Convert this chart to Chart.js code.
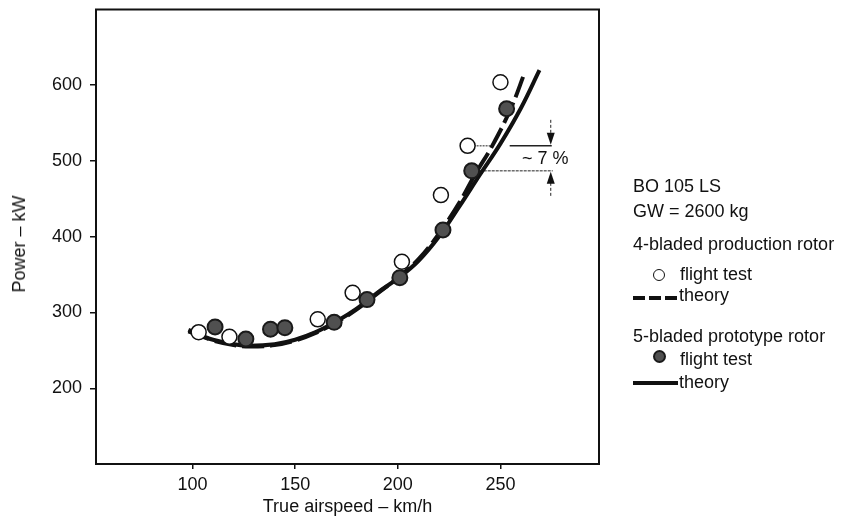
<!DOCTYPE html>
<html>
<head>
<meta charset="utf-8">
<script src="https://cdn.jsdelivr.net/npm/chart.js@4.4.1/dist/chart.umd.min.js"></script>
<style>
    html, body { margin: 0; padding: 0; background: #fff; }
    #wrap { position: relative; width: 852px; height: 521px; overflow: hidden; }
    #chart { position: absolute; left: 0; top: 0; }
    .txt { position: absolute; font: 18px "Liberation Sans", Arial, sans-serif; line-height: 20px; color: #111; white-space: nowrap; }
    .ytitle { left: 19px; top: 244px; transform: translate(-50%, -50%) rotate(-90deg); }
    .sym { position: absolute; box-sizing: border-box; }
    .openDot { width: 12px; height: 12px; border: 1.5px solid #111; border-radius: 50%; background: #fff; }
    .fillDot { width: 13px; height: 13px; border: 2px solid #1a1a1a; border-radius: 50%; background: #505050; }
    .bar { height: 4px; background: #111; }
</style>
</head>
<body>
<div id="wrap">
    <canvas id="chart" width="852" height="521"></canvas>

    <div class="txt ytitle">Power – kW</div>

    <!-- legend -->
    <div class="txt" style="left:633px; top:176px;">BO 105 LS</div>
    <div class="txt" style="left:633px; top:201px;">GW = 2600 kg</div>

    <div class="txt" style="left:633px; top:234px;">4-bladed production rotor</div>
    <div class="sym openDot" style="left:653px; top:269px;"></div>
    <div class="txt" style="left:680px; top:264px;">flight test</div>
    <div class="sym bar" style="left:633px; top:296px; width:12px;"></div>
    <div class="sym bar" style="left:649px; top:296px; width:12px;"></div>
    <div class="sym bar" style="left:665px; top:296px; width:12px;"></div>
    <div class="txt" style="left:679px; top:285px;">theory</div>

    <div class="txt" style="left:633px; top:326px;">5-bladed prototype rotor</div>
    <div class="sym fillDot" style="left:653px; top:350px;"></div>
    <div class="txt" style="left:680px; top:349px;">flight test</div>
    <div class="sym bar" style="left:633px; top:381px; width:45px;"></div>
    <div class="txt" style="left:679px; top:372px;">theory</div>

    <!-- gap annotation -->
    <div class="txt" style="left:522px; top:148px;">~ 7 %</div>
</div>

<script>
// axis ticks
var xTicks = [100, 150, 200, 250];
var yTicks = [200, 300, 400, 500, 600];

// 4-bladed production rotor - flight test (open circles)
var speedTest4 = [103, 118, 161, 178, 202, 221, 234, 250];
var powerTest4 = [274, 268, 291, 326, 367, 455, 520, 604];

// 5-bladed prototype rotor - flight test (filled circles)
var speedTest5 = [111, 126, 138, 145, 169, 185, 201, 222, 236, 253];
var powerTest5 = [281, 265, 278, 280, 287, 317, 346, 409, 487, 569];

// 4-bladed theory (dashed)
var speedTheory4 = [98, 105, 110, 120, 128, 140, 150, 160, 170, 180, 190, 200, 210, 220, 230, 238, 246, 255, 262];
var powerTheory4 = [275, 268, 263, 257, 255, 257, 263, 273, 287, 304, 325, 346, 370, 404, 445, 484, 520, 569, 618];

// 5-bladed theory (solid)
var speedTheory5 = [98, 105, 110, 120, 128, 140, 150, 160, 170, 180, 190, 200, 210, 220, 230, 240, 250, 260, 269];
var powerTheory5 = [277, 269, 264, 258, 256, 258, 264, 274, 288, 305, 326, 345, 368, 400, 440, 482, 523, 570, 620];

// ~7% gap between the two rotors at 235 km/h
var gapLevels = [520, 487];

function toPoints(xs, ys) {
    var pts = [];
    for (var i = 0; i < xs.length; i++) {
        pts.push({ x: xs[i], y: ys[i] });
    }
    return pts;
}

var font = { family: '"Liberation Sans", Arial, sans-serif', size: 18 };

// frame round the plot + the gap marks
var framePlugin = {
    id: 'frame',
    beforeDatasetsDraw: function(chart) {
        var c = chart.ctx;
        var xs = chart.scales.x;
        var ys = chart.scales.y;
        var yTop = ys.getPixelForValue(gapLevels[0]);
        var yBot = ys.getPixelForValue(gapLevels[1]);
        var xArrow = xs.getPixelForValue(274.5);
        c.save();
        c.strokeStyle = '#222';
        // upper level line
        c.lineWidth = 1;
        c.setLineDash([2, 1]);
        c.beginPath();
        c.moveTo(xs.getPixelForValue(234), yTop);
        c.lineTo(xs.getPixelForValue(247), yTop);
        c.stroke();
        c.setLineDash([]);
        c.lineWidth = 1.5;
        c.beginPath();
        c.moveTo(xs.getPixelForValue(254.5), yTop);
        c.lineTo(xArrow + 1, yTop);
        c.stroke();
        // lower level line
        c.lineWidth = 1;
        c.setLineDash([3, 1]);
        c.beginPath();
        c.moveTo(xs.getPixelForValue(236), yBot);
        c.lineTo(xArrow + 2, yBot);
        c.stroke();
        // arrow stems
        c.setLineDash([3, 2]);
        c.beginPath();
        c.moveTo(xArrow, yTop - 26);
        c.lineTo(xArrow, yTop - 12);
        c.moveTo(xArrow, yBot + 12);
        c.lineTo(xArrow, yBot + 27);
        c.stroke();
        c.setLineDash([]);
        // arrow heads
        c.fillStyle = '#111';
        c.beginPath();
        c.moveTo(xArrow - 4, yTop - 13);
        c.lineTo(xArrow + 4, yTop - 13);
        c.lineTo(xArrow, yTop - 1);
        c.closePath();
        c.fill();
        c.beginPath();
        c.moveTo(xArrow - 4, yBot + 13);
        c.lineTo(xArrow + 4, yBot + 13);
        c.lineTo(xArrow, yBot + 1);
        c.closePath();
        c.fill();
        c.restore();
    },
    afterDraw: function(chart) {
        var a = chart.chartArea;
        var c = chart.ctx;
        c.save();
        c.strokeStyle = '#111';
        c.lineWidth = 2;
        c.strokeRect(a.left, a.top, a.right - a.left, a.bottom - a.top);
        c.restore();
    }
};

var ctx = document.getElementById('chart').getContext('2d');
var myChart = new Chart(ctx, {
    type: 'scatter',
    data: {
        datasets: [
            {
                label: '5-bladed flight test',
                data: toPoints(speedTest5, powerTest5),
                pointRadius: 7.5,
                pointBackgroundColor: '#505050',
                pointBorderColor: '#1a1a1a',
                pointBorderWidth: 2,
                order: 1
            },
            {
                label: '4-bladed flight test',
                data: toPoints(speedTest4, powerTest4),
                pointRadius: 7.5,
                pointBackgroundColor: '#fff',
                pointBorderColor: '#111',
                pointBorderWidth: 1.5,
                order: 2
            },
            {
                label: '5-bladed theory',
                data: toPoints(speedTheory5, powerTheory5),
                showLine: true,
                pointRadius: 0,
                borderColor: '#111',
                borderWidth: 4,
                tension: 0.4,
                order: 3
            },
            {
                label: '4-bladed theory',
                data: toPoints(speedTheory4, powerTheory4),
                showLine: true,
                pointRadius: 0,
                borderColor: '#111',
                borderWidth: 4,
                borderDash: [22, 6],
                tension: 0.4,
                order: 4
            }
        ]
    },
    options: {
        responsive: false,
        animation: false,
        events: [],
        layout: { padding: { top: 7, right: 253, bottom: 0, left: 0 } },
        plugins: {
            legend: { display: false },
            tooltip: { enabled: false }
        },
        scales: {
            x: {
                type: 'linear',
                min: 53,
                max: 298,
                afterBuildTicks: function(scale) {
                    scale.ticks = xTicks.map(function(v) { return { value: v }; });
                },
                afterFit: function(scale) {
                    scale.height = 57;
                    scale.paddingLeft = 0;
                    scale.paddingRight = 0;
                },
                border: { display: false },
                grid: { drawOnChartArea: false, drawTicks: true, tickLength: 5, color: '#111', lineWidth: 1.5 },
                ticks: { color: '#111', font: font, padding: 5, maxRotation: 0 },
                title: { display: true, text: 'True airspeed – km/h', color: '#111', font: font, padding: { top: 3, bottom: 3 } }
            },
            y: {
                type: 'linear',
                min: 100,
                max: 700,
                afterBuildTicks: function(scale) {
                    scale.ticks = yTicks.map(function(v) { return { value: v }; });
                },
                afterFit: function(scale) {
                    scale.width = 96;
                    scale.paddingTop = 0;
                    scale.paddingBottom = 0;
                },
                border: { display: false },
                grid: { drawOnChartArea: false, drawTicks: true, tickLength: 6, color: '#111', lineWidth: 1.5 },
                ticks: { color: '#111', font: font, padding: 8 }
            }
        }
    },
    plugins: [framePlugin]
});
</script>
</body>
</html>
